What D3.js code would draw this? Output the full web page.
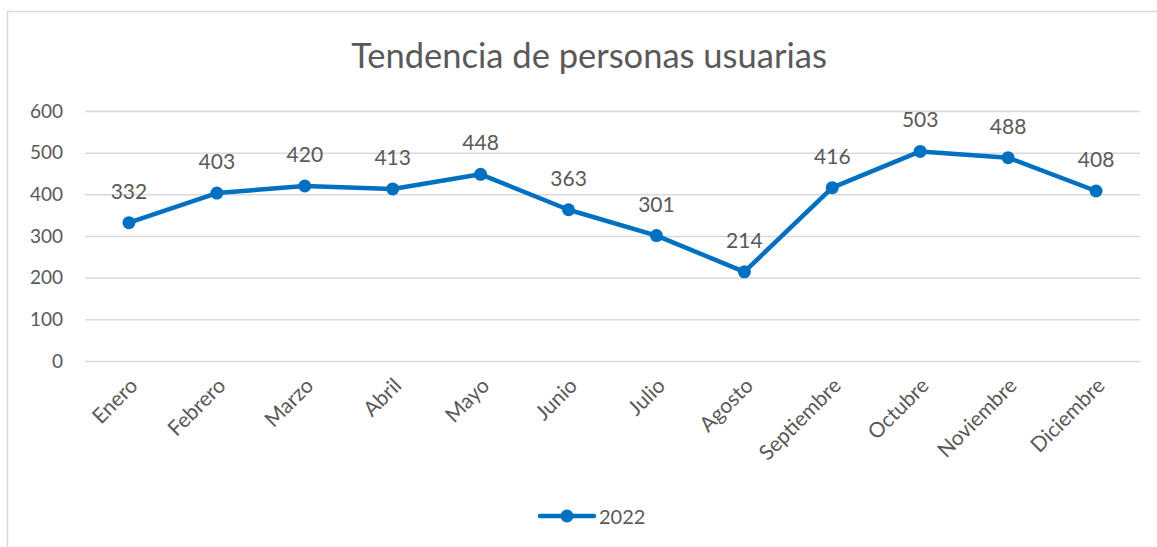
<!DOCTYPE html>
<html><head><meta charset="utf-8">
<script src="https://cdn.jsdelivr.net/npm/d3@7"></script>
<style>body{margin:0;background:#fff;} text{font-family:Lato,"Open Sans",sans-serif;fill:#595959;}</style>
</head><body><svg id="c" width="1157" height="547"></svg>
<script>
const months = ["Enero","Febrero","Marzo","Abril","Mayo","Junio","Julio","Agosto","Septiembre","Octubre","Noviembre","Diciembre"];
const values2022 = [332,403,420,413,448,363,301,214,416,503,488,408];
const yTicks = [0,100,200,300,400,500,600];
const seriesName = "2022";
const title = "Tendencia de personas usuarias";

const svg = d3.select("#c");
svg.append("rect").attr("x",7.5).attr("y",11.5).attr("width",1160).attr("height",560)
  .attr("fill","#fff").attr("stroke","#d9d9d9").attr("stroke-width",1.5);

const pLeft=85,pRight=1140,pTop=111,pBottom=361;
const x = d3.scaleBand().domain(months).range([pLeft,pRight]);
const y = d3.scaleLinear().domain([0,600]).range([pBottom,pTop]);

svg.append("text").attr("x",589).attr("y",68).attr("text-anchor","middle")
  .style("font-size","34.5px").text(title);

const yAxis = svg.append("g").attr("transform",`translate(${pLeft},0)`)
  .call(d3.axisLeft(y).tickValues(yTicks).tickSize(-(pRight-pLeft)).tickPadding(22));
yAxis.select(".domain").remove();
yAxis.selectAll("line").attr("stroke","#d9d9d9").attr("stroke-width",1.5);
yAxis.selectAll("text").style("font-size","19px").attr("fill","#595959");

const xAxis = svg.append("g").attr("transform",`translate(0,${pBottom})`)
  .call(d3.axisBottom(x).tickSize(0));
xAxis.select(".domain").remove();
xAxis.selectAll("text").style("font-size","21px").attr("fill","#595959")
  .attr("text-anchor","end").attr("dy",null).attr("y",0)
  .attr("transform","translate(10,26) rotate(-45)");

const line = d3.line().x((d,i)=>x(months[i])+x.bandwidth()/2).y(d=>y(d));
svg.append("path").datum(values2022).attr("d",line).attr("fill","none")
  .attr("stroke","#0070C0").attr("stroke-width",4.5).attr("stroke-linejoin","round");
svg.selectAll("circle.pt").data(values2022).join("circle").attr("class","pt")
  .attr("cx",(d,i)=>x(months[i])+x.bandwidth()/2).attr("cy",d=>y(d)).attr("r",6.5).attr("fill","#0070C0");
svg.selectAll("text.lbl").data(values2022).join("text").attr("class","lbl")
  .attr("x",(d,i)=>x(months[i])+x.bandwidth()/2).attr("y",d=>y(d)-24)
  .attr("text-anchor","middle").style("font-size","21px").text(d=>d);

const lg = svg.append("g");
lg.append("line").attr("x1",540).attr("x2",594).attr("y1",516).attr("y2",516)
  .attr("stroke","#0070C0").attr("stroke-width",4.5).attr("stroke-linecap","round");
lg.append("circle").attr("cx",567).attr("cy",516).attr("r",6.5).attr("fill","#0070C0");
lg.append("text").attr("x",599).attr("y",524).style("font-size","20px").text(seriesName);
</script></body></html>
